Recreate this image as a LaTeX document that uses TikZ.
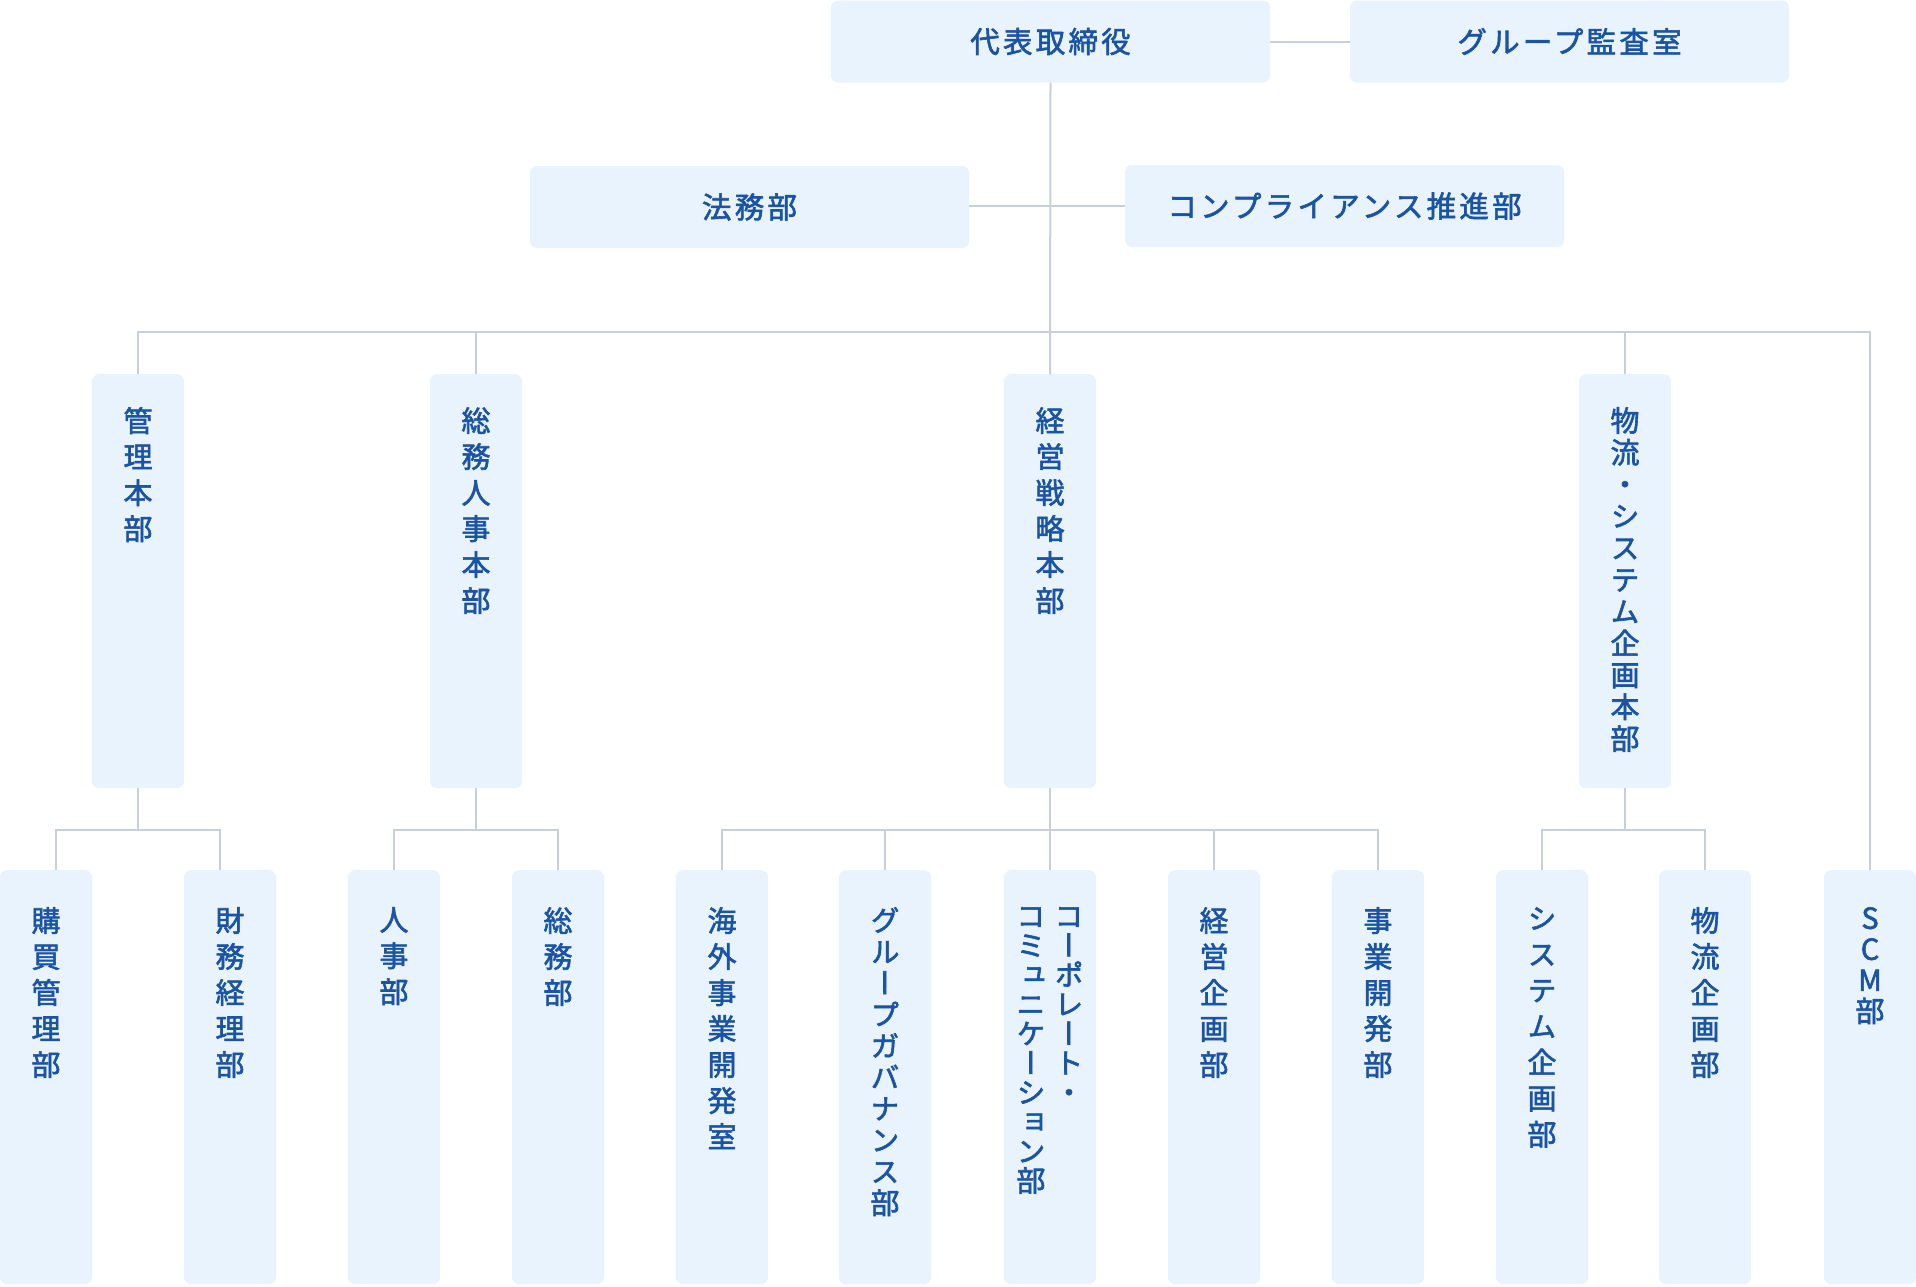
\documentclass[tikz,border=0pt]{standalone}
\usepackage{fontspec}
\newfontfamily\hfont[LetterSpace=11,FakeBold=2]{Noto Sans CJK JP}
\newfontfamily\vfont[RawFeature=+vert,FakeBold=2]{Noto Sans CJK JP}
\definecolor{boxfill}{HTML}{E8F3FE}
\definecolor{txtblue}{HTML}{1B54A3}
\definecolor{lncol}{HTML}{C6CFDC}
\tikzset{
  box/.style={fill=boxfill, rounded corners=7pt, inner sep=0pt, draw=none},
  hbox/.style={box, minimum width=439pt, minimum height=82pt, text=txtblue, font=\hfont\fontsize{29.5}{34}\selectfont},
  vbx/.style={box, minimum width=92pt, anchor=north},
  vtxt/.style={align=center, inner sep=0pt, text=txtblue, anchor=north},
  conn/.style={draw=lncol, line width=2pt},
}
% name, cx, top, height, step, text-offset, text
\newcommand\vboxnode[7]{%
  \node[vbx, minimum height=#4pt] (#1) at (#2,#3) {};
  \node[vtxt, font=\vfont\fontsize{29}{#5}\selectfont] (#1t) at ([yshift=-#6pt]#1.north) {#7};
}
\begin{document}
\begin{tikzpicture}[x=1pt,y=-1pt]
\useasboundingbox (0,0) rectangle (1916,1286);
% top level
\node[hbox] (ceo) at (1050.5,41.5) {代表取締役};
\node[hbox] (audit) at (1569.5,41.5) {グループ監査室};
\node[hbox] (legal) at (749.5,207) {法務部};
\node[hbox] (compl) at (1344.5,206) {コンプライアンス推進部};
% middle level
\vboxnode{kanri}{138}{374}{414}{36}{33}{管\\理\\本\\部}
\vboxnode{soujin}{476}{374}{414}{36}{33}{総\\務\\人\\事\\本\\部}
\vboxnode{senryaku}{1050}{374}{414}{36}{33}{経\\営\\戦\\略\\本\\部}
\vboxnode{butsusys}{1625}{374}{414}{31.8}{33}{物\\流\\・\\シ\\ス\\テ\\ム\\企\\画\\本\\部}
% bottom level
\vboxnode{koubai}{46}{870}{414}{36}{37}{購\\買\\管\\理\\部}
\vboxnode{zaimu}{230}{870}{414}{36}{37}{財\\務\\経\\理\\部}
\vboxnode{jinji}{394}{870}{414}{36}{37}{人\\事\\部}
\vboxnode{soumu}{558}{870}{414}{36}{37}{総\\務\\部}
\vboxnode{kaigai}{722}{870}{414}{36}{37}{海\\外\\事\\業\\開\\発\\室}
\vboxnode{gov}{885}{870}{414}{31.4}{37}{グ\\ル\\ー\\プ\\ガ\\バ\\ナ\\ン\\ス\\部}
\node[vbx, minimum height=414pt] (corp) at (1050,870) {};
\node[vtxt, font=\vfont\fontsize{29}{29.4}\selectfont] (corpt1) at ([xshift=19pt,yshift=-37pt]corp.north) {コ\\ー\\ポ\\レ\\ー\\ト\\・};
\node[vtxt, font=\vfont\fontsize{29}{29.4}\selectfont] (corpt2) at ([xshift=-19pt,yshift=-37pt]corp.north) {コ\\ミ\\ュ\\ニ\\ケ\\ー\\シ\\ョ\\ン\\部};
\vboxnode{keikaku}{1214}{870}{414}{36}{37}{経\\営\\企\\画\\部}
\vboxnode{jigyou}{1378}{870}{414}{36}{37}{事\\業\\開\\発\\部}
\vboxnode{syskik}{1542}{870}{414}{36}{37}{シ\\ス\\テ\\ム\\企\\画\\部}
\vboxnode{butkik}{1705}{870}{414}{36}{37}{物\\流\\企\\画\\部}
\vboxnode{scm}{1870}{870}{414}{31}{37}{S\\C\\M\\部}
% bus levels
\coordinate (busA) at (0,332);
\coordinate (busB) at (0,830);
% connectors
\draw[conn] (ceo.east) -- (audit.west);
\draw[conn] (ceo.south) -- (senryaku.north);
\draw[conn] (legal.east |- compl.west) -- (compl.west);
\draw[conn] (kanri.north) |- (scm.north |- busA) -- (scm.north);
\draw[conn] (soujin.north) -- (soujin.north |- busA);
\draw[conn] (butsusys.north) -- (butsusys.north |- busA);
% group kanri
\draw[conn] (kanri.south) -- (kanri.south |- busB);
\draw[conn] ([xshift=10pt]koubai.north) |- ([xshift=-10pt]zaimu.north |- busB) -- ([xshift=-10pt]zaimu.north);
% group soujin
\draw[conn] (soujin.south) -- (soujin.south |- busB);
\draw[conn] (jinji.north) |- (soumu.north |- busB) -- (soumu.north);
% group senryaku
\draw[conn] (senryaku.south) -- (corp.north);
\draw[conn] (kaigai.north) |- (jigyou.north |- busB) -- (jigyou.north);
\draw[conn] (gov.north) -- (gov.north |- busB);
\draw[conn] (keikaku.north) -- (keikaku.north |- busB);
% group butsusys
\draw[conn] (butsusys.south) -- (butsusys.south |- busB);
\draw[conn] (syskik.north) |- (butkik.north |- busB) -- (butkik.north);
\end{tikzpicture}
\end{document}
